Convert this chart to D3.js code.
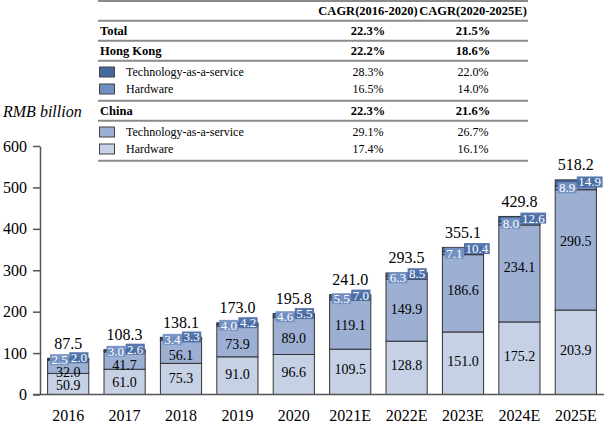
<!DOCTYPE html>
<html>
<head>
<meta charset="utf-8">
<script src="https://cdn.jsdelivr.net/npm/d3@7"></script>
<style>
  html, body { margin: 0; padding: 0; background: #fff; }
  svg text { font-family: "Liberation Serif", "DejaVu Serif", serif; }
</style>
</head>
<body>
<svg id="chart" width="606" height="430" font-family="Liberation Serif, DejaVu Serif, serif"></svg>
<script>
// ---------- data ----------
const years = ["2016","2017","2018","2019","2020","2021E","2022E","2023E","2024E","2025E"];
const chinaHardware = [50.9, 61.0, 75.3, 91.0, 96.6, 109.5, 128.8, 151.0, 175.2, 203.9];
const chinaTaaS     = [32.0, 41.7, 56.1, 73.9, 89.0, 119.1, 149.9, 186.6, 234.1, 290.5];
const hkHardware    = [2.5, 3.0, 3.4, 4.0, 4.6, 5.5, 6.3, 7.1, 8.0, 8.9];
const hkTaaS        = [2.0, 2.6, 3.3, 4.2, 5.5, 7.0, 8.5, 10.4, 12.6, 14.9];
const totals        = [87.5, 108.3, 138.1, 173.0, 195.8, 241.0, 293.5, 355.1, 429.8, 518.2];
const yTicks = [0, 100, 200, 300, 400, 500, 600];

const cagrHeaders = ["CAGR(2016-2020)", "CAGR(2020-2025E)"];
const rowLabels = ["Total", "Hong Kong", "Technology-as-a-service", "Hardware", "China", "Technology-as-a-service", "Hardware"];
const rowKinds  = ["bold", "bold", "item", "item", "bold", "item", "item"];
const cagr1 = ["22.3%", "22.2%", "28.3%", "16.5%", "22.3%", "29.1%", "17.4%"];
const cagr2 = ["21.5%", "18.6%", "22.0%", "14.0%", "21.6%", "26.7%", "16.1%"];

const colors = {
  chinaHardware: "#c6d1e5",
  chinaTaaS: "#9db0d3",
  hkHardware: "#6f8ec2",
  hkTaaS: "#46679c"
};
const rowColors = [null, null, colors.hkTaaS, colors.hkHardware, null, colors.chinaTaaS, colors.chinaHardware];

const SERIF = "Liberation Serif, DejaVu Serif, serif";

// ---------- setup ----------
const svg = d3.select("#chart");
const x = d3.scaleBand().domain(years).range([40, 604]).paddingInner(0.27).paddingOuter(0.135);
const y = d3.scaleLinear().domain([0, 600]).range([394.5, 146]);
const bw = x.bandwidth();

// ---------- table ----------
const tX0 = 98, tX1 = 528, col1 = 368, col2 = 473;
const lineColor = "#8a8a8a";
const tg = svg.append("g").attr("font-family", SERIF);
let cy = 20.7;
const rowCenters = [];
const sepLines = [1, 20.7];
rowKinds.forEach((k, i) => {
  if (k === "bold") {
    rowCenters.push(cy + 10.5);
    cy += 20;
    sepLines.push(cy);
  } else {
    const prevItem = rowKinds[i - 1] === "item";
    rowCenters.push(prevItem ? cy + 28.3 : cy + 11.3);
    if (prevItem) { cy += 40; sepLines.push(cy); }
  }
});
sepLines.forEach(ly => {
  tg.append("line").attr("x1", tX0).attr("x2", tX1).attr("y1", ly).attr("y2", ly)
    .attr("stroke", lineColor).attr("stroke-width", 2);
});
tg.selectAll("text.hdr").data(cagrHeaders).join("text")
  .attr("x", (d, i) => i === 0 ? col1 : col2).attr("y", 11)
  .attr("text-anchor", "middle").attr("dominant-baseline", "central")
  .attr("font-size", 12.5).attr("font-weight", "bold").text(d => d);
rowLabels.forEach((lab, i) => {
  const bold = rowKinds[i] === "bold";
  const yc = rowCenters[i];
  if (!bold) {
    tg.append("rect").attr("x", 99.5).attr("y", yc - 5).attr("width", 15).attr("height", 10)
      .attr("fill", rowColors[i]).attr("stroke", "#444").attr("stroke-width", 1);
  }
  tg.append("text").attr("x", bold ? 100 : 126).attr("y", yc)
    .attr("dominant-baseline", "central").attr("font-size", bold ? 12.5 : 12)
    .attr("font-weight", bold ? "bold" : "normal").text(lab);
  tg.append("text").attr("x", col1).attr("y", yc).attr("text-anchor", "middle")
    .attr("dominant-baseline", "central").attr("font-size", bold ? 12.5 : 12)
    .attr("font-weight", bold ? "bold" : "normal").text(cagr1[i]);
  tg.append("text").attr("x", col2).attr("y", yc).attr("text-anchor", "middle")
    .attr("dominant-baseline", "central").attr("font-size", bold ? 12.5 : 12)
    .attr("font-weight", bold ? "bold" : "normal").text(cagr2[i]);
});

// ---------- unit label ----------
svg.append("text").attr("x", 3).attr("y", 111).attr("dominant-baseline", "central")
  .attr("font-family", SERIF)
  .attr("font-size", 16).attr("font-style", "italic").text("RMB billion");

// ---------- axes ----------
const yAxis = d3.axisLeft(y).tickValues(yTicks).tickSize(7).tickSizeOuter(0).tickPadding(6);
const ag = svg.append("g").attr("transform", "translate(40,0)").call(yAxis);
ag.attr("font-family", SERIF).attr("font-size", 16);
ag.select(".domain").attr("stroke", "#555").attr("stroke-width", 1.5);
ag.selectAll(".tick line").attr("stroke", "#555").attr("stroke-width", 1.5);
ag.selectAll(".tick text").attr("fill", "#000");

// ---------- bars ----------
const series = [
  { key: "chinaHardware", vals: chinaHardware },
  { key: "chinaTaaS", vals: chinaTaaS },
  { key: "hkHardware", vals: hkHardware },
  { key: "hkTaaS", vals: hkTaaS }
];
const bg = svg.append("g");
years.forEach((yr, i) => {
  let base = 0;
  series.forEach(s => {
    const v = s.vals[i];
    bg.append("rect")
      .attr("x", x(yr)).attr("width", bw)
      .attr("y", y(base + v)).attr("height", y(base) - y(base + v))
      .attr("fill", colors[s.key]).attr("stroke", "#333").attr("stroke-width", 1);
    base += v;
  });
});

// baseline
svg.append("line").attr("x1", 33).attr("x2", 604).attr("y1", y(0)).attr("y2", y(0))
  .attr("stroke", "#555").attr("stroke-width", 1.5);

// ---------- labels ----------
const lg = svg.append("g").attr("font-family", SERIF);
years.forEach((yr, i) => {
  const cx = x(yr) + bw / 2;
  // china hardware
  const h0 = y(0), h1 = y(chinaHardware[i]);
  const hwOff = Math.max(-2, Math.min(3, 6 - 0.2 * (h0 - h1)));
  lg.append("text").attr("x", cx).attr("y", (h0 + h1) / 2 + hwOff)
    .attr("text-anchor", "middle").attr("dominant-baseline", "central")
    .attr("font-size", 14).text(chinaHardware[i].toFixed(1));
  // china taas
  const t1 = y(chinaHardware[i] + chinaTaaS[i]);
  const hpx = h1 - t1;
  const off = 7 - 0.13 * hpx;
  lg.append("text").attr("x", cx).attr("y", (h1 + t1) / 2 + off)
    .attr("text-anchor", "middle").attr("dominant-baseline", "central")
    .attr("font-size", 14).text(chinaTaaS[i].toFixed(1));
  // HK boxes
  const k1 = y(chinaHardware[i] + chinaTaaS[i] + hkHardware[i]);
  const k2 = y(chinaHardware[i] + chinaTaaS[i] + hkHardware[i] + hkTaaS[i]);
  const boxes = [
    { val: hkHardware[i], yc: (t1 + k1) / 2, fill: "#7592c5", side: "left" },
    { val: hkTaaS[i], yc: (k1 + k2) / 2 - 1, fill: "#4c70aa", side: "right" }
  ];
  boxes.forEach(b => {
    const txt = b.val.toFixed(1);
    const t = lg.append("text").attr("font-size", 13).attr("fill", "#fff")
      .attr("dominant-baseline", "central").attr("y", b.yc).text(txt);
    const tw = t.node().getComputedTextLength();
    const pad = 1.5;
    const bwid = tw + pad * 2;
    const bx = b.side === "left" ? cx + 1 - bwid : cx + 1;
    lg.insert("rect", () => t.node())
      .attr("x", bx).attr("y", b.yc - 5.5).attr("width", bwid).attr("height", 11)
      .attr("fill", b.fill).attr("opacity", 0.95);
    t.attr("x", bx + pad);
  });
  // total
  lg.append("text").attr("x", cx).attr("y", y(totals[i]) - 15)
    .attr("text-anchor", "middle").attr("dominant-baseline", "central")
    .attr("font-size", 16).text(totals[i].toFixed(1));
  // year
  lg.append("text").attr("x", cx).attr("y", 415)
    .attr("text-anchor", "middle").attr("dominant-baseline", "central")
    .attr("font-size", 16).text(yr);
});
</script>
</body>
</html>
